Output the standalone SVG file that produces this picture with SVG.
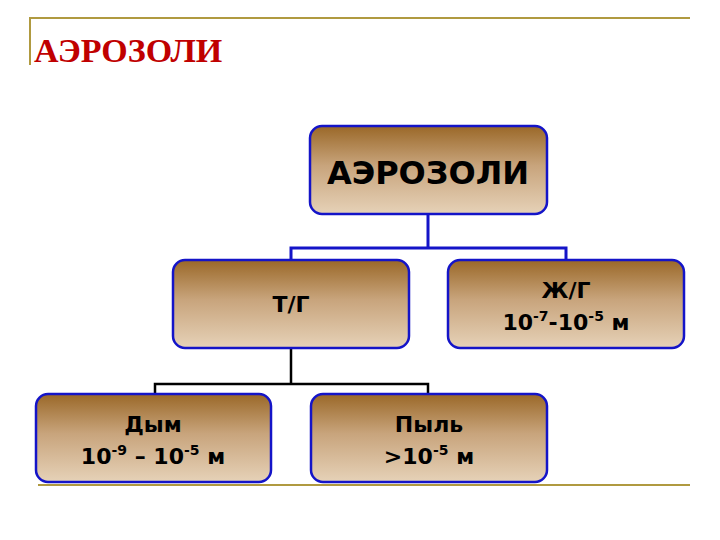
<svg xmlns="http://www.w3.org/2000/svg" width="720" height="540" viewBox="0 0 720 540">
<defs>
<linearGradient id="g" x1="0" y1="0" x2="0" y2="1">
<stop offset="0" stop-color="#9a6828"/>
<stop offset="0.45" stop-color="#c8a47c"/>
<stop offset="1" stop-color="#e6d2b8"/>
</linearGradient>
</defs>
<style>
.n{fill:url(#g);stroke:#1414c8;stroke-width:2.5}
.t{font-family:"DejaVu Sans",sans-serif;font-weight:bold;fill:#000;text-anchor:middle}
.f{fill:none;stroke:#b09a40;stroke-width:2}
</style>
<rect width="720" height="540" fill="#fff"/>
<path class="f" d="M30 65V18H690"/>
<path class="f" d="M38 485H690"/>
<text x="34" y="62" font-family="Liberation Serif,serif" font-weight="bold" font-size="34" fill="#c00000">АЭРОЗОЛИ</text>
<g id="connectors" fill="none" stroke-width="3">
<path d="M428 214V248M291 260V248H566V260" stroke="#1414c8"/>
<path d="M291 348V384M155 394V384H428V394" stroke="#000" stroke-width="2.5"/>
</g>
<g id="root"><rect class="n" x="310" y="126" width="237" height="88" rx="12"/><text class="t" x="428" y="184" font-size="32">АЭРОЗОЛИ</text></g>
<g id="tg"><rect class="n" x="173" y="260" width="236" height="88" rx="12"/><text class="t" x="291" y="312" font-size="22">Т/Г</text></g>
<g id="zg"><rect class="n" x="448" y="260" width="236" height="88" rx="12"/><text class="t" x="566" y="298" font-size="22">Ж/Г</text><text class="t" x="566" y="330" font-size="22">10<tspan font-size="14" dy="-9">-7</tspan><tspan dy="9">-10</tspan><tspan font-size="14" dy="-9">-5</tspan><tspan dy="9"> м</tspan></text></g>
<g id="dym"><rect class="n" x="36" y="394" width="235" height="88" rx="12"/><text class="t" x="153" y="432" font-size="22">Дым</text><text class="t" x="153" y="464" font-size="22">10<tspan font-size="14" dy="-9">-9</tspan><tspan dy="9"> – 10</tspan><tspan font-size="14" dy="-9">-5</tspan><tspan dy="9"> м</tspan></text></g>
<g id="pyl"><rect class="n" x="311" y="394" width="236" height="88" rx="12"/><text class="t" x="429" y="432" font-size="22">Пыль</text><text class="t" x="429" y="464" font-size="22">&gt;10<tspan font-size="14" dy="-9">-5</tspan><tspan dy="9"> м</tspan></text></g>
</svg>
